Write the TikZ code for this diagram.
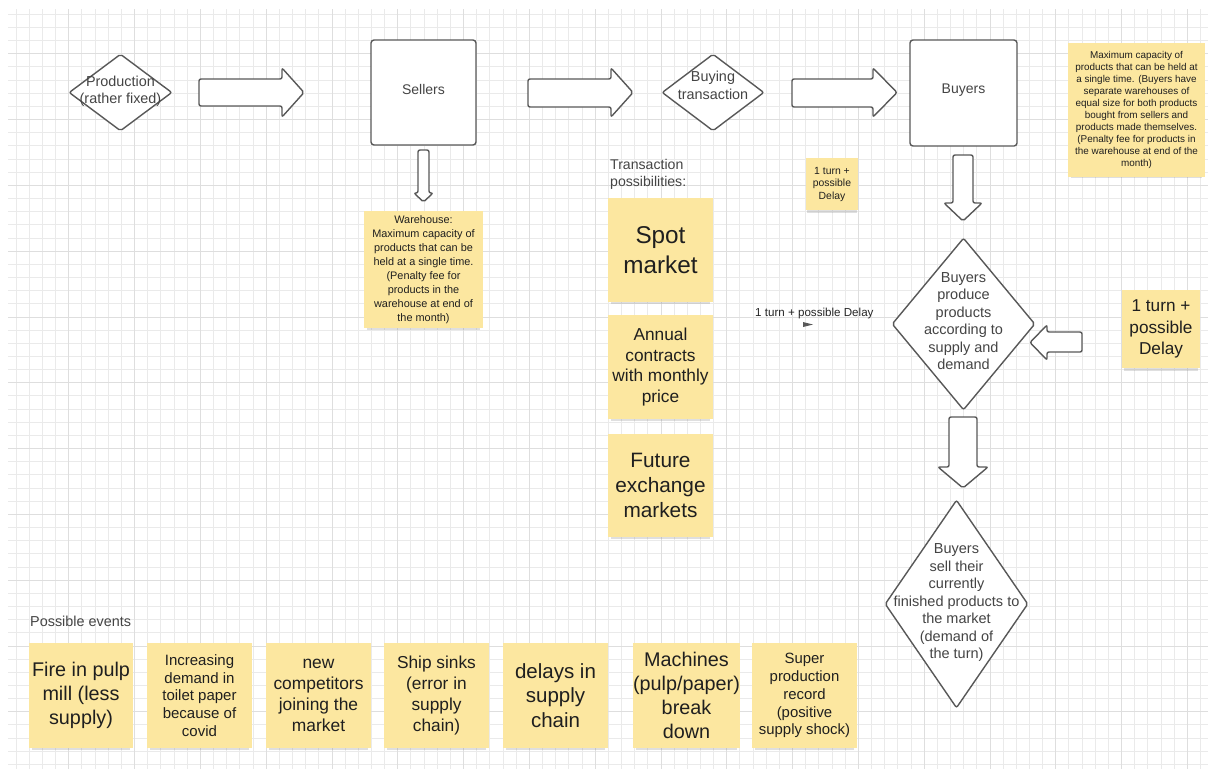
\documentclass[tikz,border=0pt]{standalone}
\usepackage{fontspec}
\setmainfont{Liberation Sans}
\usetikzlibrary{shapes.geometric,shadows}
\definecolor{notey}{RGB}{252,231,160}
\definecolor{edgec}{RGB}{88,88,88}
\definecolor{txtg}{RGB}{68,68,68}
\definecolor{gridmin}{RGB}{234,234,234}
\definecolor{gridmaj}{RGB}{222,222,222}
\newcommand{\fsz}[2]{\fontsize{#1}{#2}\selectfont}
\begin{document}
\begin{tikzpicture}[x=1pt,y=-1pt,
 note/.style={rectangle, fill=notey, align=center, inner sep=0pt, text=black!88,
   drop shadow={shadow xshift=0pt, shadow yshift=-5pt, shadow scale=0.95, opacity=0.25}},
 shapebox/.style={draw=edgec, line width=1.4pt, fill=white, rounded corners=3pt, inner sep=0pt},
 dia/.style={diamond, draw=edgec, line width=1.4pt, fill=white, inner sep=0pt, rounded corners=2pt},
 lbl/.style={text=txtg, align=center, inner sep=0pt},
 blk/.style={draw=edgec, line width=1.4pt, fill=white, rounded corners=2pt}]
\useasboundingbox (0,0) rectangle (1208,769);
\fill[white] (0,0) rectangle (1208,769);
% grid
\begin{scope}
\clip (8,9) rectangle (1208,769);
\foreach \i in {1,...,91} {\pgfmathsetmacro\gx{round(2.5+13.16*\i)+0.5}
  \draw[gridmin, line width=0.9pt] (\gx,9) -- ++(0,760);}
\foreach \i in {2,...,59} {\pgfmathsetmacro\gy{round(-12.5+13.16*\i)+0.5}
  \draw[gridmin, line width=0.9pt] (8,\gy) -- ++(1200,0);}
\foreach \k in {0,...,17} {\pgfmathsetmacro\gx{round(68.3+65.8*\k)+0.5}
  \draw[gridmaj, line width=1pt] (\gx,9) -- ++(0,760);}
\foreach \k in {0,...,10} {\pgfmathsetmacro\gy{round(53.3+65.8*\k)+0.5}
  \draw[gridmaj, line width=1pt] (8,\gy) -- ++(1200,0);}
\end{scope}

% top row
\node[dia, minimum width=103pt, minimum height=77pt] (prod) at (120.5,92.5) {};
\node[lbl, font=\fsz{14.4}{17.3}] (prodt) at (120.5,91.5) {Production\\(rather fixed)};
\draw[blk] (199,79) -- (282,79) -- (282,68) -- (304,92.5) -- (282,117) -- (282,106) -- (199,106) -- cycle;
\node[shapebox, minimum width=105pt, minimum height=105pt] (sellers) at (423.5,92.5) {};
\node[lbl, font=\fsz{14}{17}] at (423.5,89) {Sellers};
\draw[blk] (418,150) -- (429,150) -- (429,193) -- (433,193) -- (423.5,202) -- (414,193) -- (418,193) -- cycle;
\node[note, minimum width=119pt, minimum height=117pt, font=\fsz{10.9}{14}] (wh) at (423.5,269.5)
 {Warehouse:\\Maximum capacity of\\products that can be\\held at a single time.\\(Penalty fee for\\products in the\\warehouse at end of\\the month)};

\draw[blk] (528,79) -- (611,79) -- (611,68) -- (633,92.5) -- (611,117) -- (611,107) -- (528,107) -- cycle;
\node[dia, minimum width=102pt, minimum height=77pt] (buyt) at (713,92.5) {};
\node[lbl, font=\fsz{14.4}{17.3}] at (713,85.3) {Buying\\transaction};
\draw[blk] (792,79) -- (873,79) -- (873,68) -- (897,92.5) -- (873,117) -- (873,107) -- (792,107) -- cycle;
\node[shapebox, minimum width=107pt, minimum height=106pt] (buyers) at (963.5,93) {};
\node[lbl, font=\fsz{14}{17}] at (963.5,90) {Buyers};
\node[note, minimum width=137pt, minimum height=134pt, font=\fsz{9.9}{12}] (capn) at (1136.5,110)
 {Maximum capacity of\\products that can be held at\\a single time. (Buyers have\\separate warehouses of\\equal size for both products\\bought from sellers and\\products made themselves.\\(Penalty fee for products in\\the warehouse at end of the\\month)};
\node[note, minimum width=52pt, minimum height=52pt, font=\fsz{10.4}{12.5}] (small) at (832,184)
 {1 turn +\\possible\\Delay};

% transaction possibilities
\node[anchor=west, align=left, inner sep=0pt, text=txtg, font=\fsz{14.1}{17.3}] (tp) at (610,174.5)
 {Transaction\\possibilities:};
\node[note, minimum width=105pt, minimum height=104pt, font=\fsz{24.3}{30}] (spot) at (660.5,250) {Spot\\market};
\node[note, minimum width=105pt, minimum height=104pt, font=\fsz{17.3}{20.6}] (annual) at (660.5,367)
 {Annual\\contracts\\with monthly\\price};
\node[note, minimum width=105pt, minimum height=103pt, font=\fsz{20.8}{25}] (future) at (660.5,485.5)
 {Future\\exchange\\markets};

% delay label
\node[anchor=west, inner sep=0pt, text=black!85, font=\fsz{11.6}{14}] (dl) at (755,313) {1 turn + possible Delay};
\fill[edgec] (803,322) -- (813,324.5) -- (803,327) -- cycle;

% right column
\draw[blk] (953,155) -- (973,155) -- (973,203) -- (982,203) -- (963,221) -- (944,203) -- (953,203) -- cycle;
\node[dia, minimum width=143pt, minimum height=172pt] (prodb) at (963.5,324) {};
\node[lbl, font=\fsz{14.5}{17.5}] at (963.5,321)
 {Buyers\\produce\\products\\according to\\supply and\\demand};
\draw[blk] (1082,332) -- (1082,352) -- (1047,352) -- (1047,360) -- (1030,342.5) -- (1047,325) -- (1047,332) -- cycle;
\node[note, minimum width=78pt, minimum height=78pt, font=\fsz{17.2}{21.3}] (bign) at (1161,329)
 {1 turn +\\possible\\Delay};
\draw[blk] (949,417) -- (977,417) -- (977,467) -- (988,467) -- (963,488) -- (938,467) -- (949,467) -- cycle;
\node[dia, minimum width=143pt, minimum height=208pt] (sell) at (956.5,604) {};
\node[lbl, font=\fsz{14.5}{17.5}] at (956.5,603)
 {Buyers\\sell their\\currently\\finished products to\\the market\\(demand of\\the turn)};

% events
\node[anchor=west, inner sep=0pt, text=txtg, font=\fsz{14.4}{17}] (pe) at (30,621.7) {Possible events};
\node[note, minimum width=104pt, minimum height=105pt, font=\fsz{19.8}{23.7}] (e1) at (81,695.5)
 {Fire in pulp\\mill (less\\supply)};
\node[note, minimum width=105pt, minimum height=105pt, font=\fsz{15}{17.75}] (e2) at (199.5,695.5)
 {Increasing\\demand in\\toilet paper\\because of\\covid};
\node[note, minimum width=105pt, minimum height=105pt, font=\fsz{17.4}{21.1}] (e3) at (318.5,695.5)
 {new\\competitors\\joining the\\market};
\node[note, minimum width=105pt, minimum height=105pt, font=\fsz{17.3}{21.3}] (e4) at (436.5,695.5)
 {Ship sinks\\(error in\\supply\\chain)};
\node[note, minimum width=105pt, minimum height=105pt, font=\fsz{20.5}{24.5}] (e5) at (555.5,695.5)
 {delays in\\supply\\chain};
\node[note, minimum width=105pt, minimum height=105pt, font=\fsz{19.8}{24}] (e6) at (686.5,695.5)
 {Machines\\(pulp/paper)\\break\\down};
\node[note, minimum width=105pt, minimum height=105pt, font=\fsz{14.9}{17.9}] (e7) at (804.5,695.5)
 {Super\\production\\record\\(positive\\supply shock)};
\end{tikzpicture}
\end{document}
